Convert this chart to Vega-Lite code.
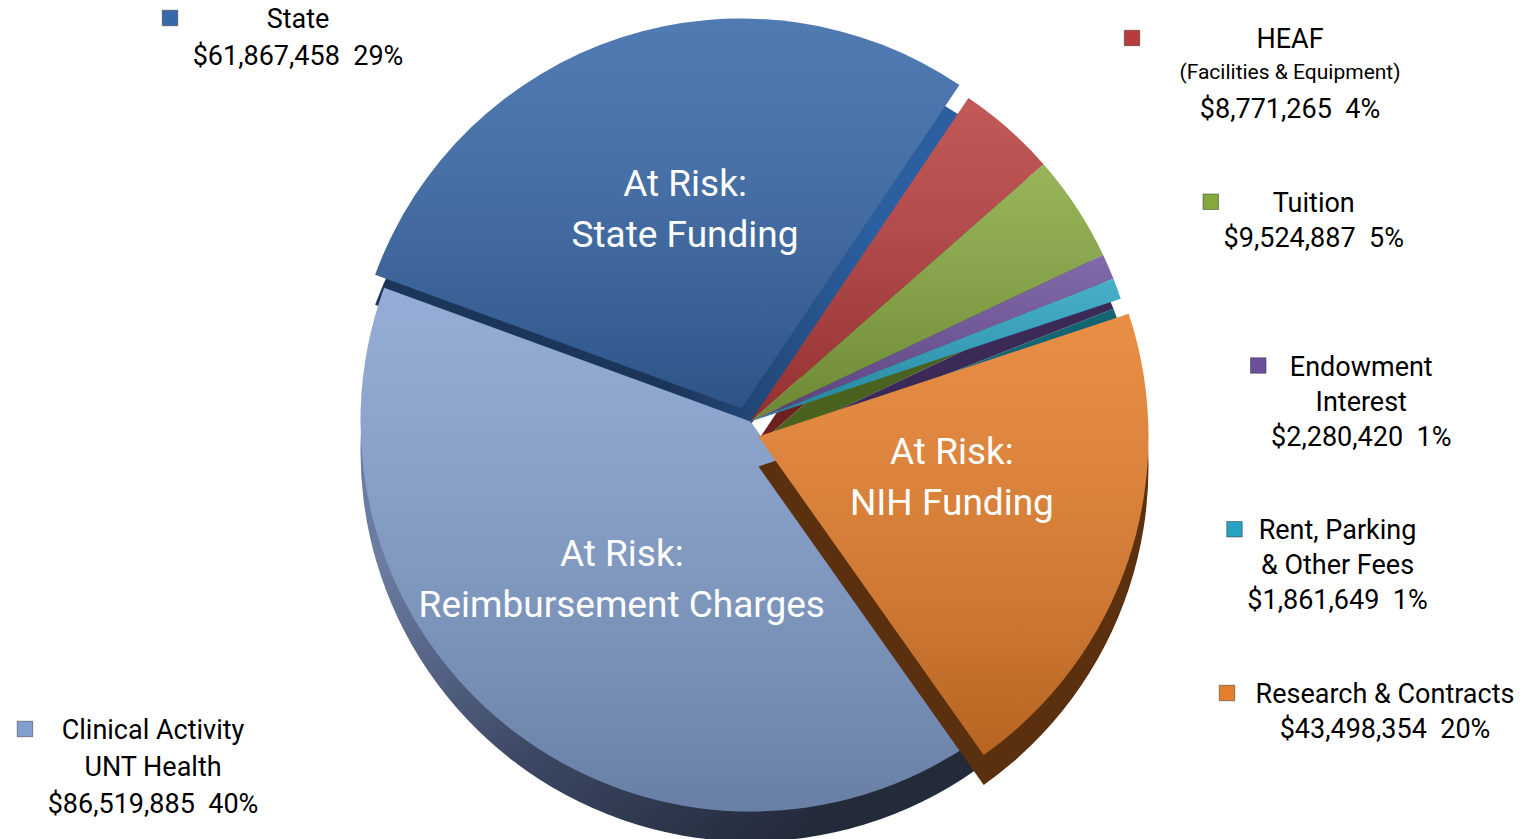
{
  "$schema": "https://vega.github.io/schema/vega-lite/v6.json",
  "width": 1535,
  "height": 839,
  "padding": 0,
  "autosize": {"type": "fit", "contains": "padding"},
  "background": "white",
  "config": {"view": {"stroke": null}, "font": "Roboto, Liberation Sans, sans-serif"},
  "data": {
    "values": [
      {"source": "HEAF", "value": 8771265, "label": "HEAF\n\u200b\n$8,771,265\u00a0\u00a04%", "sub": "(Facilities & Equipment)", "note": ""},
      {"source": "Tuition", "value": 9524887, "label": "Tuition\n$9,524,887\u00a0\u00a05%", "sub": "", "note": ""},
      {"source": "Endowment", "value": 2280420, "label": "Endowment\nInterest\n$2,280,420\u00a0\u00a01%", "sub": "", "note": ""},
      {"source": "Rent", "value": 1861649, "label": "Rent, Parking\n& Other Fees\n$1,861,649\u00a0\u00a01%", "sub": "", "note": ""},
      {"source": "Research", "value": 43498354, "label": "Research & Contracts\n$43,498,354\u00a0\u00a020%", "sub": "", "note": "At Risk:\nNIH Funding"},
      {"source": "Clinical", "value": 86519885, "label": "Clinical Activity\nUNT Health\n$86,519,885\u00a0\u00a040%", "sub": "", "note": "At Risk:\nReimbursement Charges"},
      {"source": "State", "value": 61867458, "label": "State\n$61,867,458\u00a0\u00a029%", "sub": "", "note": "At Risk:\nState Funding"}
    ]
  },
  "transform": [
    {"window": [{"op": "row_number", "as": "i"}]},
    {"stack": "value", "groupby": [], "sort": [{"field": "i", "order": "ascending"}], "as": ["v0", "v1"]}
  ],
  "layer": [
    {
      "transform": [{"filter": {"not": {"field": "source", "oneOf": ["State", "Research", "Clinical"]}}}],
      "mark": {"type": "arc", "radius": 390, "xOffset": -17, "yOffset": 35},
      "encoding": {
        "theta": {"field": "v0", "type": "quantitative", "scale": {"range": [0.593, 6.876], "zero": true, "nice": false}},
        "theta2": {"field": "v1"},
        "color": {"field": "source", "type": "nominal", "legend": null, "scale": {"domain": ["HEAF", "Tuition", "Endowment", "Rent", "Research", "Clinical", "State"], "range": ["#6d2020", "#4a6220", "#3b2a58", "#146574", "#5e3010", "#33405c", "#1d375a"]}}
      }
    },
    {
      "transform": [{"filter": {"field": "source", "equal": "Clinical"}}],
      "mark": {"type": "arc", "radius": 390, "xOffset": -17, "yOffset": 35, "fill": {"gradient": "linear", "x1": 0, "y1": 0, "x2": 1, "y2": 1, "stops": [{"offset": 0.25, "color": "#6b7ca2"}, {"offset": 0.55, "color": "#3c4864"}, {"offset": 0.85, "color": "#232b3b"}]}},
      "encoding": {
        "theta": {"field": "v0", "type": "quantitative", "scale": {"range": [0.593, 6.876], "zero": true, "nice": false}},
        "theta2": {"field": "v1"}
      }
    },
    {
      "transform": [{"filter": {"field": "source", "equal": "State"}}],
      "mark": {"type": "arc", "radius": 390, "xOffset": -26, "yOffset": 22, "fill": {"gradient": "linear", "x1": 0, "y1": 0, "x2": 1, "y2": 0, "stops": [{"offset": 0.5, "color": "#1c355a"}, {"offset": 0.85, "color": "#2b5f9f"}]}},
      "encoding": {
        "theta": {"field": "v0", "type": "quantitative", "scale": {"range": [0.593, 6.876], "zero": true, "nice": false}},
        "theta2": {"field": "v1"}
      }
    },
    {
      "transform": [{"filter": {"not": {"field": "source", "oneOf": ["State", "Research"]}}}],
      "mark": {"type": "arc", "radius": 390, "xOffset": -17, "yOffset": 5},
      "encoding": {
        "theta": {"field": "v0", "type": "quantitative", "scale": {"range": [0.593, 6.876], "zero": true, "nice": false}},
        "theta2": {"field": "v1"},
        "color": {"field": "source", "type": "nominal", "legend": null, "scale": {"domain": ["HEAF", "Tuition", "Endowment", "Rent", "Research", "Clinical", "State"], "range": ["#b83c3c", "#85a83e", "#6c4f9a", "#27a2c0", "#e57e2b", "#839fcf", "#3868a8"]}}
      }
    },
    {
      "transform": [{"filter": {"not": {"field": "source", "oneOf": ["State", "Research"]}}}],
      "mark": {"type": "arc", "radius": 390, "xOffset": -17, "yOffset": 5, "fill": {"gradient": "linear", "x1": 0, "y1": 0, "x2": 0, "y2": 1, "stops": [{"offset": 0, "color": "rgba(255,255,255,0.15)"}, {"offset": 1, "color": "rgba(0,0,0,0.2)"}]}},
      "encoding": {
        "theta": {"field": "v0", "type": "quantitative", "scale": {"range": [0.593, 6.876], "zero": true, "nice": false}},
        "theta2": {"field": "v1"}
      }
    },
    {
      "transform": [{"filter": {"field": "source", "equal": "Research"}}],
      "mark": {"type": "arc", "radius": 390, "xOffset": -9, "yOffset": 50},
      "encoding": {
        "theta": {"field": "v0", "type": "quantitative", "scale": {"range": [0.593, 6.876], "zero": true, "nice": false}},
        "theta2": {"field": "v1"},
        "color": {"field": "source", "type": "nominal", "legend": null, "scale": {"domain": ["HEAF", "Tuition", "Endowment", "Rent", "Research", "Clinical", "State"], "range": ["#6d2020", "#4a6220", "#3b2a58", "#146574", "#5a300e", "#33405c", "#1d375a"]}}
      }
    },
    {
      "transform": [{"filter": {"field": "source", "equal": "Research"}}],
      "mark": {"type": "arc", "radius": 390, "xOffset": -9, "yOffset": 20},
      "encoding": {
        "theta": {"field": "v0", "type": "quantitative", "scale": {"range": [0.593, 6.876], "zero": true, "nice": false}},
        "theta2": {"field": "v1"},
        "color": {"field": "source", "type": "nominal", "legend": null, "scale": {"domain": ["HEAF", "Tuition", "Endowment", "Rent", "Research", "Clinical", "State"], "range": ["#b83c3c", "#85a83e", "#6c4f9a", "#27a2c0", "#e57e2b", "#839fcf", "#3868a8"]}}
      }
    },
    {
      "transform": [{"filter": {"field": "source", "equal": "Research"}}],
      "mark": {"type": "arc", "radius": 390, "xOffset": -9, "yOffset": 20, "fill": {"gradient": "linear", "x1": 0, "y1": 0, "x2": 0, "y2": 1, "stops": [{"offset": 0, "color": "rgba(255,255,255,0.12)"}, {"offset": 1, "color": "rgba(0,0,0,0.2)"}]}},
      "encoding": {
        "theta": {"field": "v0", "type": "quantitative", "scale": {"range": [0.593, 6.876], "zero": true, "nice": false}},
        "theta2": {"field": "v1"}
      }
    },
    {
      "transform": [{"filter": {"field": "source", "equal": "State"}}],
      "mark": {"type": "arc", "radius": 390, "xOffset": -26, "yOffset": -8},
      "encoding": {
        "theta": {"field": "v0", "type": "quantitative", "scale": {"range": [0.593, 6.876], "zero": true, "nice": false}},
        "theta2": {"field": "v1"},
        "color": {"field": "source", "type": "nominal", "legend": null, "scale": {"domain": ["HEAF", "Tuition", "Endowment", "Rent", "Research", "Clinical", "State"], "range": ["#b83c3c", "#85a83e", "#6c4f9a", "#27a2c0", "#e57e2b", "#839fcf", "#3868a8"]}}
      }
    },
    {
      "transform": [{"filter": {"field": "source", "equal": "State"}}],
      "mark": {"type": "arc", "radius": 390, "xOffset": -26, "yOffset": -8, "fill": {"gradient": "linear", "x1": 0, "y1": 0, "x2": 0, "y2": 1, "stops": [{"offset": 0, "color": "rgba(255,255,255,0.12)"}, {"offset": 1, "color": "rgba(0,0,0,0.2)"}]}},
      "encoding": {
        "theta": {"field": "v0", "type": "quantitative", "scale": {"range": [0.593, 6.876], "zero": true, "nice": false}},
        "theta2": {"field": "v1"}
      }
    },
    {
      "mark": {"type": "text", "radius": 212, "xOffset": -17, "yOffset": -30, "fontSize": 37, "lineBreak": "\n", "lineHeight": 51, "color": "white", "align": "center", "baseline": "middle"},
      "encoding": {
        "theta": {"field": "value", "type": "quantitative", "stack": true, "scale": {"range": [0.593, 6.876], "zero": true, "nice": false}},
        "order": {"field": "i", "type": "quantitative"},
        "detail": {"field": "source", "type": "nominal"},
        "text": {"field": "note", "type": "nominal"}
      }
    },
    {
      "transform": [{"filter": {"field": "source", "oneOf": ["State", "Clinical"]}}],
      "encoding": {
        "x": {"field": "source", "type": "nominal", "axis": null, "scale": {"type": "point", "domain": ["Clinical", "State"], "range": [153, 298], "padding": 0}},
        "y": {"field": "source", "type": "nominal", "axis": null, "scale": {"type": "point", "domain": ["State", "Clinical"], "range": [20, 731], "padding": 0}}
      },
      "layer": [
        {
          "mark": {"type": "text", "fontSize": 27, "lineBreak": "\n", "lineHeight": 37, "align": "center", "baseline": "middle", "color": "black"},
          "encoding": {"text": {"field": "label", "type": "nominal"}}
        },
        {
          "mark": {"type": "point", "shape": "square", "filled": true, "size": 240, "opacity": 1, "xOffset": -128, "yOffset": -2, "stroke": "#333333", "strokeWidth": 0.5},
          "encoding": {"color": {"field": "source", "type": "nominal", "legend": null, "scale": {"domain": ["HEAF", "Tuition", "Endowment", "Rent", "Research", "Clinical", "State"], "range": ["#b83c3c", "#85a83e", "#6c4f9a", "#27a2c0", "#e57e2b", "#839fcf", "#3868a8"]}}}
        }
      ]
    },
    {
      "transform": [{"filter": {"field": "source", "oneOf": ["HEAF", "Tuition", "Endowment", "Rent", "Research"]}}],
      "encoding": {
        "x": {"field": "source", "type": "nominal", "axis": null, "scale": {"type": "point", "domain": ["HEAF", "Tuition", "Rent", "Endowment", "Research"], "range": [1290, 1385], "padding": 0}},
        "y": {"field": "source", "type": "nominal", "axis": null, "scale": {"type": "point", "domain": ["HEAF", "Tuition", "Endowment", "Rent", "Research"], "range": [40, 695], "padding": 0}}
      },
      "layer": [
        {
          "mark": {"type": "text", "fontSize": 27, "lineBreak": "\n", "lineHeight": 35, "align": "center", "baseline": "middle", "color": "black"},
          "encoding": {"text": {"field": "label", "type": "nominal"}}
        },
        {
          "mark": {"type": "text", "fontSize": 21, "align": "center", "baseline": "middle", "color": "black", "yOffset": 33},
          "encoding": {"text": {"field": "sub", "type": "nominal"}}
        },
        {
          "transform": [{"filter": {"field": "source", "oneOf": ["Tuition", "Endowment", "Rent"]}}],
          "mark": {"type": "point", "shape": "square", "filled": true, "size": 240, "opacity": 1, "xOffset": -103, "yOffset": -2, "stroke": "#333333", "strokeWidth": 0.5},
          "encoding": {"color": {"field": "source", "type": "nominal", "legend": null, "scale": {"domain": ["HEAF", "Tuition", "Endowment", "Rent", "Research", "Clinical", "State"], "range": ["#b83c3c", "#85a83e", "#6c4f9a", "#27a2c0", "#e57e2b", "#839fcf", "#3868a8"]}}}
        },
        {
          "transform": [{"filter": {"field": "source", "oneOf": ["HEAF", "Research"]}}],
          "mark": {"type": "point", "shape": "square", "filled": true, "size": 240, "opacity": 1, "xOffset": -158, "yOffset": -2, "stroke": "#333333", "strokeWidth": 0.5},
          "encoding": {"color": {"field": "source", "type": "nominal", "legend": null, "scale": {"domain": ["HEAF", "Tuition", "Endowment", "Rent", "Research", "Clinical", "State"], "range": ["#b83c3c", "#85a83e", "#6c4f9a", "#27a2c0", "#e57e2b", "#839fcf", "#3868a8"]}}}
        }
      ]
    }
  ],
  "resolve": {"scale": {"color": "independent", "x": "independent", "y": "independent"}}
}
